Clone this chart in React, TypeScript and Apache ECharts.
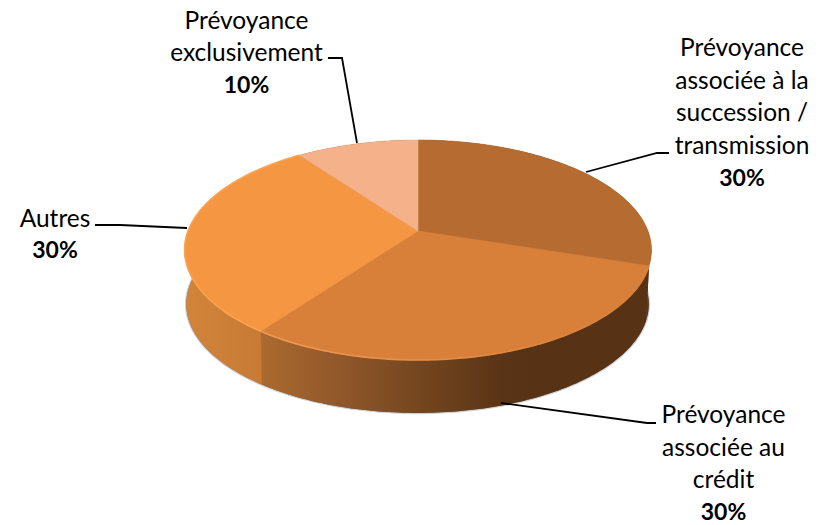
import React, { useEffect, useRef } from "react";
import * as echarts from "echarts";

// Share of each contract type, clockwise from twelve o'clock
const categories = [
  ["Prévoyance", "associée à la", "succession /", "transmission"],
  ["Prévoyance", "associée au", "crédit"],
  ["Autres"],
  ["Prévoyance", "exclusivement"],
];
const shareValues = [30, 30, 30, 10];

const topColors = ["#b66c31", "#d8803a", "#f59643", "#f4b18a"];

// Projection of the tilted disc: the near side is drawn larger than the far side
const DISC = { cx: 418, cy: 231, a: 229.9, b: 106.7, k: 0.1727 };
const BASE = { cx: 417.5, cy: 285.3, a: 227.8, b: 105.6, k: 0.1727 };
type Disc = typeof DISC;

const project = (d: Disc, deg: number): number[] => {
  const t = (deg * Math.PI) / 180;
  const u = Math.sin(t);
  const v = Math.cos(t);
  const w = 1 + d.k * v;
  return [d.cx + (d.a * u) / w, d.cy - (d.b * v) / w];
};

const arc = (d: Disc, from: number, to: number): number[][] => {
  const pts: number[][] = [];
  const n = Math.max(2, Math.ceil(Math.abs(to - from)));
  for (let i = 0; i <= n; i++) pts.push(project(d, from + ((to - from) * i) / n));
  return pts;
};

const total = shareValues.reduce((s, x) => s + x, 0);
const sliceRange = (i: number): [number, number] => {
  const before = shareValues.slice(0, i).reduce((s, x) => s + x, 0);
  return [(before / total) * 360, ((before + shareValues[i]) / total) * 360];
};

const hGrad = (x: number, x2: number, stops: [number, string][]) => ({
  type: "linear",
  global: true,
  x,
  y: 0,
  x2,
  y2: 0,
  colorStops: stops.map(([offset, color]) => ({ offset, color })),
});

const rimStrokes = [
  "rgba(0,0,0,0)",
  hGrad(262, 640, [
    [0, "#f09a50"],
    [0.5, "#e38c45"],
    [1, "#d8803a"],
  ]),
  "#fca34d",
  "rgba(0,0,0,0)",
];

const wallFills = [
  "#583215",
  hGrad(262, 530, [
    [0, "#ab6a2f"],
    [0.3, "#90572a"],
    [0.6, "#73451f"],
    [0.9, "#5a3416"],
    [1, "#583215"],
  ]),
  hGrad(186, 262, [
    [0, "#d28439"],
    [1, "#c67a34"],
  ]),
  "#583215",
];

const callouts = [
  { cx: 742, firstY: 46.5, lineGap: 32.5, line: [[586, 172], [657, 153], [669, 153]] },
  { cx: 723.5, firstY: 413.5, lineGap: 32.5, line: [[501, 403], [647, 423], [656, 423]] },
  { cx: 55, firstY: 217, lineGap: 32, line: [[95, 225], [120, 225], [187, 228]] },
  { cx: 246.5, firstY: 19.5, lineGap: 32, line: [[328, 58], [342, 58], [357, 143]] },
];

const FONT = "Lato, 'Open Sans', sans-serif";

const renderWall = (params: any) => {
  const [from, to] = sliceRange(params.dataIndex);
  const top = arc(DISC, from, to);
  const bottom = arc(BASE, to, from);
  return {
    type: "polygon",
    shape: { points: top.concat(bottom) },
    style: { fill: wallFills[params.dataIndex], stroke: "none" },
  };
};

const renderTop = (params: any) => {
  const i = params.dataIndex;
  const [from, to] = sliceRange(i);
  const rim = arc(DISC, from, to);
  return {
    type: "group",
    children: [
      {
        type: "polygon",
        shape: { points: [[DISC.cx, DISC.cy]].concat(rim) },
        style: { fill: topColors[i], stroke: topColors[i], lineWidth: 0.6 },
      },
      {
        type: "polyline",
        shape: { points: rim },
        style: { fill: "none", stroke: rimStrokes[i], lineWidth: 1.6 },
      },
    ],
  };
};

const renderCallout = (params: any) => {
  const i = params.dataIndex;
  const c = callouts[i];
  const names = categories[i];
  const children: any[] = [
    {
      type: "polyline",
      shape: { points: c.line },
      style: { fill: "none", stroke: "#000", lineWidth: 1.8 },
    },
  ];
  names.forEach((name, k) => {
    children.push({
      type: "text",
      x: c.cx,
      y: c.firstY + k * c.lineGap,
      style: {
        text: name,
        fill: "#000",
        font: `400 24.5px ${FONT}`,
        align: "center",
        verticalAlign: "middle",
      },
    });
  });
  children.push({
    type: "text",
    x: c.cx,
    y: c.firstY + names.length * c.lineGap,
    style: {
      text: `${shareValues[i]}%`,
      fill: "#000",
      font: `700 23px ${FONT}`,
      align: "center",
      verticalAlign: "middle",
    },
  });
  return { type: "group", children };
};

export default function App() {
  const ref = useRef<HTMLDivElement>(null);
  useEffect(() => {
    const chart = echarts.init(ref.current!, undefined, { renderer: "svg" });
    chart.setOption({
      animation: false,
      backgroundColor: "#fff",
      series: [
        {
          type: "custom",
          coordinateSystem: "none",
          silent: true,
          z: 1,
          data: [0],
          // Soft grey halo under the drum
          renderItem: () => ({
            type: "polygon",
            shape: { points: arc(BASE, 0, 360) },
            style: {
              fill: "#777",
              stroke: "rgba(90,90,90,0.28)",
              lineWidth: 2.5,
            },
          }),
        },
        {
          type: "custom",
          coordinateSystem: "none",
          silent: true,
          z: 2,
          data: shareValues,
          renderItem: renderWall,
        },
        {
          type: "custom",
          coordinateSystem: "none",
          silent: true,
          z: 3,
          data: shareValues,
          renderItem: renderTop,
        },
        {
          type: "custom",
          coordinateSystem: "none",
          silent: true,
          z: 4,
          data: shareValues,
          renderItem: renderCallout,
        },
      ],
    });
    return () => chart.dispose();
  }, []);
  return (
    <div
      ref={ref}
      style={{ position: "absolute", left: 0, top: 0, width: 826, height: 525 }}
    />
  );
}
